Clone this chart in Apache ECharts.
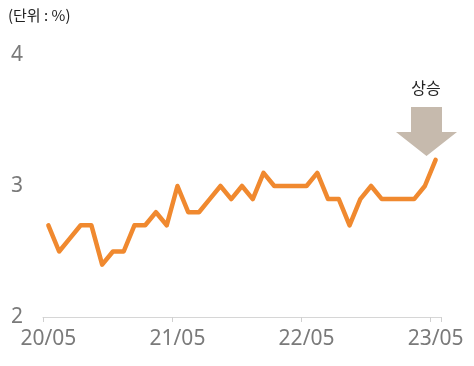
<!DOCTYPE html>
<html><head><meta charset="utf-8">
<style>html,body{margin:0;padding:0;background:#fff}#c{width:474px;height:366px}</style>
<script src="https://cdn.jsdelivr.net/npm/echarts@6/dist/echarts.min.js"></script>
</head><body><div id="c"></div>
<script>
const categories = ['20/05','20/06','20/07','20/08','20/09','20/10','20/11','20/12',
  '21/01','21/02','21/03','21/04','21/05','21/06','21/07','21/08','21/09','21/10','21/11','21/12',
  '22/01','22/02','22/03','22/04','22/05','22/06','22/07','22/08','22/09','22/10','22/11','22/12',
  '23/01','23/02','23/03','23/04','23/05'];
const values = [2.7,2.5,2.6,2.7,2.7,2.4,2.5,2.5,2.7,2.7,2.8,2.7,3.0,2.8,2.8,2.9,3.0,2.9,3.0,2.9,
  3.1,3.0,3.0,3.0,3.0,3.1,2.9,2.9,2.7,2.9,3.0,2.9,2.9,2.9,2.9,3.0,3.2];
const yTicks = [2,3,4];
const unitText = '(단위 : %)';
const noteText = '상승';

const chart = echarts.init(document.getElementById('c'));
chart.setOption({
  animation: false,
  grid: {left: 43, right: 33, top: 55, bottom: 49, containLabel: false},
  xAxis: {
    type: 'category', data: categories, boundaryGap: true,
    axisLine: {lineStyle: {color: '#d6d6d6', width: 1}},
    axisTick: {show: true, interval: 11, length: 5, lineStyle: {color: '#d0d0d0', width: 1}},
    axisLabel: {interval: 11, color: '#7a7a7a', fontSize: 21, margin: 12, fontFamily: 'Noto Sans'}
  },
  yAxis: {
    type: 'value', min: yTicks[0], max: yTicks[yTicks.length-1], interval: 1,
    axisLine: {show: false}, axisTick: {show: false}, splitLine: {show: false},
    axisLabel: {color: '#7a7a7a', fontSize: 21, margin: 20, fontFamily: 'Noto Sans'}
  },
  series: [{
    type: 'line', data: values, symbol: 'none',
    lineStyle: {color: '#F0892F', width: 4.5, join: 'round', cap: 'round'}
  }],
  graphic: [
    {type: 'text', left: 8, top: 8, style: {text: unitText, fill: '#222', font: '15px "Noto Sans CJK KR"'}},
    {type: 'text', x: 426, y: 88, style: {text: noteText, fill: '#222', font: '16px "Noto Sans CJK KR"', textAlign: 'center', textVerticalAlign: 'middle'}},
    {type: 'polygon', shape: {points: [[411,107],[442,107],[442,132],[457,132],[426.5,156],[396,132],[411,132]]}, style: {fill: '#C6BAAD'}}
  ]
});
</script></body></html>
